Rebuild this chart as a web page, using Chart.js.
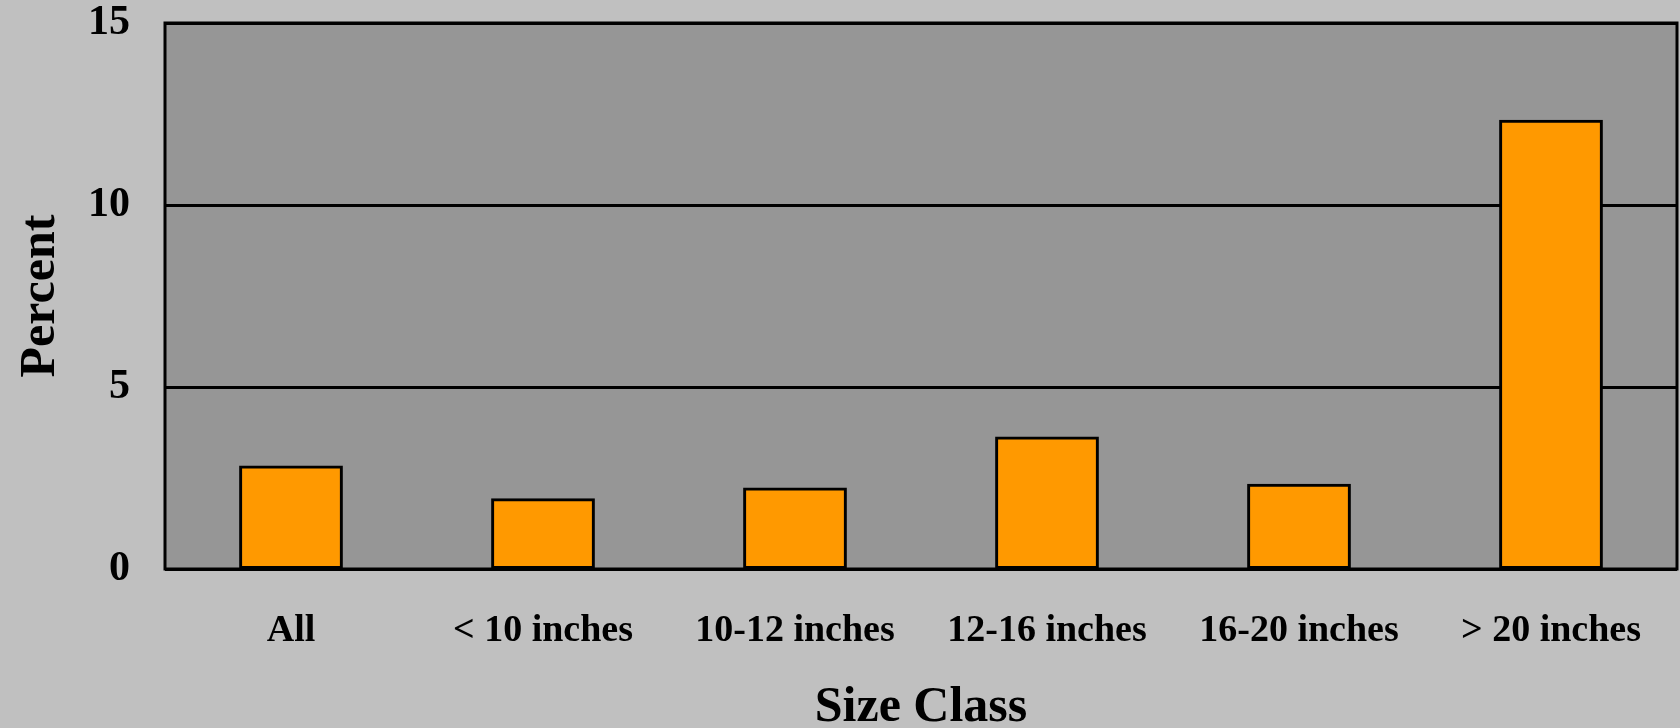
<!DOCTYPE html>
<html>
<head>
<meta charset="utf-8">
<title>Percent by Size Class</title>
<script src="https://cdn.jsdelivr.net/npm/chart.js@4/dist/chart.umd.min.js"></script>
<style>
  html, body { margin: 0; padding: 0; background: #C0C0C0; }
  #wrap { width: 1680px; height: 728px; }
  canvas { display: block; }
</style>
</head>
<body>
<div id="wrap"><canvas id="chart" width="1680" height="728"></canvas></div>
<script>
// Size classes and the percent recorded for each
const categories = ['All', '< 10 inches', '10-12 inches', '12-16 inches', '16-20 inches', '> 20 inches'];
const percentValues = [2.8, 1.9, 2.2, 3.6, 2.3, 12.3];
const yTicks = [0, 5, 10, 15];

const FONT = "'Palatino Linotype', 'Book Antiqua', Palatino, 'Liberation Serif', serif";

// Gray plot panel behind the bars and a black frame around it
const panelPlugin = {
  id: 'panel',
  beforeDraw(chart) {
    const { ctx, chartArea: a } = chart;
    ctx.save();
    ctx.fillStyle = '#C0C0C0';
    ctx.fillRect(0, 0, chart.width, chart.height);
    ctx.fillStyle = '#969696';
    ctx.fillRect(a.left, a.top, a.right - a.left, a.bottom - a.top);
    ctx.restore();
  },
  afterDraw(chart) {
    const { ctx, chartArea: a } = chart;
    ctx.save();
    ctx.strokeStyle = '#000';
    ctx.lineWidth = 3;
    ctx.strokeRect(a.left, a.top, a.right - a.left, a.bottom - a.top);
    ctx.restore();
  }
};

new Chart(document.getElementById('chart'), {
  type: 'bar',
  data: {
    labels: categories,
    datasets: [{
      data: percentValues,
      backgroundColor: '#FF9900',
      borderColor: '#000000',
      borderWidth: 3,
      borderSkipped: false,
      // grow each bar by half the outline so the outline straddles the value edge
      inflateAmount: 1.5,
      barPercentage: 0.4,
      categoryPercentage: 1.0
    }]
  },
  options: {
    responsive: false,
    animation: false,
    devicePixelRatio: 1,
    layout: { padding: { top: 23, right: 3, left: 0, bottom: 0 } },
    plugins: {
      legend: { display: false },
      tooltip: { enabled: false }
    },
    scales: {
      x: {
        offset: true,
        grid: { display: false, drawTicks: false },
        border: { display: false },
        ticks: {
          color: '#000',
          padding: 39,
          maxRotation: 0,
          autoSkip: false,
          font: { family: FONT, size: 38, weight: 'bold', lineHeight: 1.2 }
        },
        title: {
          display: true,
          text: 'Size Class',
          color: '#000',
          padding: { top: 0, bottom: 0 },
          font: { family: FONT, size: 50, weight: 'bold', lineHeight: 0.8 }
        },
        afterFit(scale) {
          scale.height = 159;
          scale.paddingLeft = 0;
          scale.paddingRight = 0;
        }
      },
      y: {
        min: 0,
        max: 15,
        afterBuildTicks(scale) { scale.ticks = yTicks.map(v => ({ value: v })); },
        grid: { color: '#000', lineWidth: 3, drawTicks: false },
        border: { display: false },
        ticks: {
          color: '#000',
          padding: 35,
          font: { family: FONT, size: 42, weight: 'bold', lineHeight: 1.2 }
        },
        title: {
          display: true,
          text: 'Percent',
          color: '#000',
          padding: { top: 16, bottom: 0 },
          font: { family: FONT, size: 50, weight: 'bold', lineHeight: 1 }
        },
        afterFit(scale) {
          scale.width = 165;
          scale.paddingTop = 0;
          scale.paddingBottom = 0;
        }
      }
    }
  },
  plugins: [panelPlugin]
});
</script>
</body>
</html>
